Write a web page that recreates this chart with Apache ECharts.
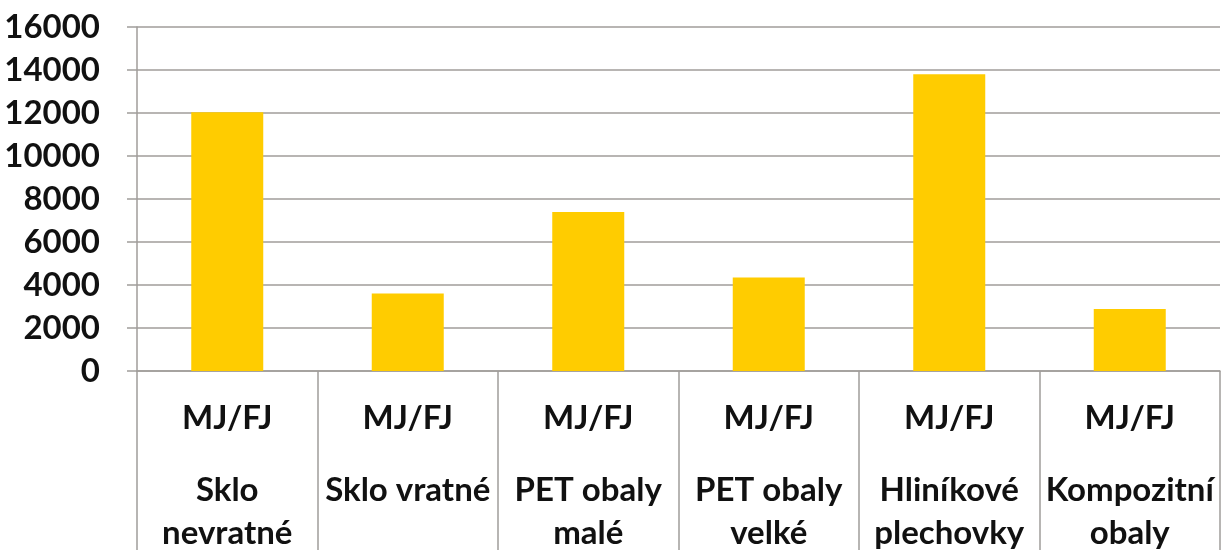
<!DOCTYPE html>
<html>
<head>
<meta charset="utf-8">
<script src="https://cdn.jsdelivr.net/npm/echarts@6/dist/echarts.min.js"></script>
<style>
  html, body { margin: 0; padding: 0; background: #fff; }
  #chart-container { width: 1222px; height: 550px; }
</style>
</head>
<body>
<div id="chart-container"></div>
<script>
// data
const unitLabel = "MJ/FJ";
const categories = [
  "Sklo\nnevratné",
  "Sklo vratné",
  "PET obaly\nmalé",
  "PET obaly\nvelké",
  "Hliníkové\nplechovky",
  "Kompozitní\nobaly",
];
const values = [12030, 3610, 7400, 4350, 13800, 2880];
const yTicks = { min: 0, max: 16000, interval: 2000 };

const dom = document.getElementById("chart-container");
const chart = echarts.init(dom, null, { renderer: "canvas" });

const font = "Lato, 'Open Sans', sans-serif";
const gridColor = "#a09d9a";
const textStyle = { fontFamily: font, fontWeight: "bold", fontSize: 33, lineHeight: 43, color: "#111" };

const option = {
  animation: false,
  grid: { left: 137, right: 2, top: 27, bottom: 178, containLabel: false },
  xAxis: {
    type: "category",
    data: categories,
    boundaryGap: true,
    axisLine: { show: true, lineStyle: { color: gridColor, width: 1.5 } },
    axisTick: {
      show: true,
      interval: 0,
      length: 182,
      lineStyle: { color: gridColor, width: 1.5 },
    },
    axisLabel: {
      interval: 0,
      margin: 26,
      formatter: (v) =>
        "{a|" + unitLabel + "}\n{s| }\n" +
        v.split("\n").map((t) => "{b|" + t + "}").join("\n"),
      rich: {
        a: textStyle,
        s: { fontSize: 10, lineHeight: 29 },
        b: textStyle,
      },
    },
  },
  yAxis: {
    type: "value",
    min: yTicks.min,
    max: yTicks.max,
    interval: yTicks.interval,
    axisLine: { show: true, lineStyle: { color: gridColor, width: 1.5 } },
    axisTick: { show: true, length: 10, lineStyle: { color: gridColor, width: 1.5 } },
    splitLine: { show: true, lineStyle: { color: gridColor, width: 1.5 } },
    axisLabel: {
      margin: 37,
      formatter: (v) => String(v),
      fontFamily: font,
      fontWeight: "bold",
      fontSize: 33,
      color: "#111",
    },
  },
  series: [
    {
      type: "bar",
      data: values,
      barWidth: 72,
      itemStyle: { color: "#FFCC00" },
    },
  ],
};

chart.setOption(option);
</script>
</body>
</html>
